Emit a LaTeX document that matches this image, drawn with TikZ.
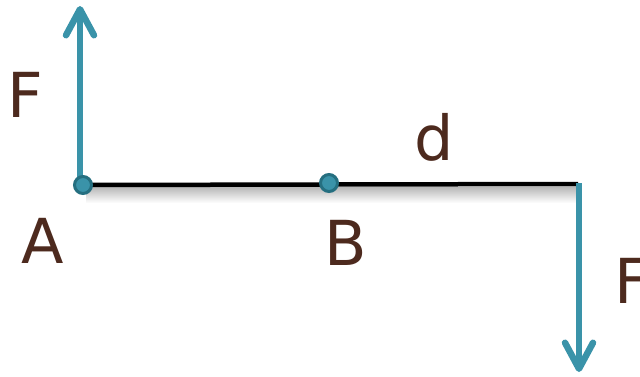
\documentclass[tikz,border=0pt]{standalone}
\usepackage{fontspec}
\setmainfont{DejaVu Sans}
\usetikzlibrary{arrows.meta}
\definecolor{teal1}{HTML}{3A93A9}
\definecolor{teal2}{HTML}{256F80}
\definecolor{brown1}{HTML}{4D2A1E}
\tikzset{
  force/.style={draw=teal1, line width=6.5pt, -{Straight Barb[length=26pt,width=28pt,round]}},
  beam/.style={draw=black, line width=4.5pt},
  pin/.style={circle, fill=teal1, draw=teal2, line width=3pt, minimum size=17pt, inner sep=0pt},
  lbl/.style={text=brown1, font=\fontsize{62}{62}\selectfont, inner sep=0pt, anchor=base west},
}
\begin{document}
\begin{tikzpicture}[x=1pt,y=-1pt]
\useasboundingbox (0,0) rectangle (640,376);
% shadow under the beam
\shade[top color=black!28, bottom color=white] (86,187) rectangle (578,203);
\coordinate (A) at (83,185);
\coordinate (E) at (578,184);
\coordinate (Ftop) at (80,6);
\coordinate (Fbase) at (80,185);
\coordinate (Rtop) at (579,183);
\coordinate (Rbot) at (579,372);
\draw[beam] (A) -- (E);
\draw[force] (Fbase) -- (Ftop);
\draw[force] (Rtop) -- (Rbot);
\node[pin] (pA) at (A) {};
\node[pin] (pB) at (329,183) {};
\node[lbl] (lF1) at (7,117) {F};
\node[lbl] (lA) at (21.5,263) {A};
\node[lbl] (lB) at (324,265) {B};
\node[lbl] (ld) at (414.5,160) {d};
\node[lbl] (lF2) at (614,303) {F};
\end{tikzpicture}
\end{document}
